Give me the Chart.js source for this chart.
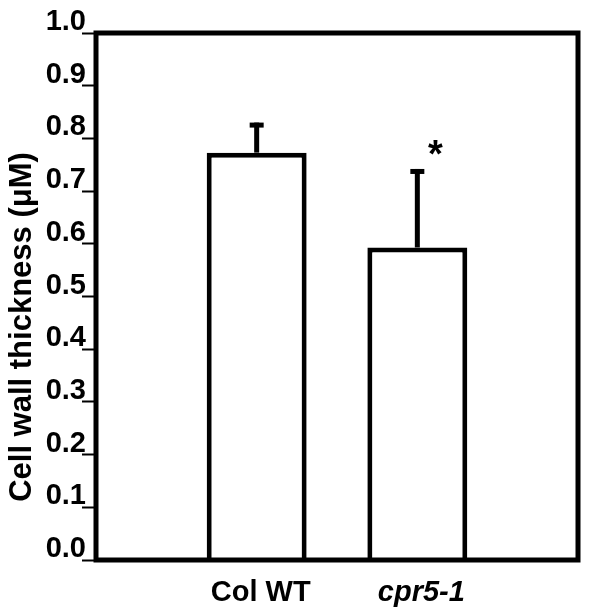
<!DOCTYPE html>
<html>
<head>
<meta charset="utf-8">
<script src="https://cdn.jsdelivr.net/npm/chart.js@4"></script>
<style>
  html, body { margin: 0; padding: 0; background: #fff; }
  #wrap { width: 600px; height: 614px; }
</style>
</head>
<body>
<div id="wrap"><canvas id="wallChart"></canvas></div>
<script>
// categories (blank slots at both ends keep the bars at 1/3 and 2/3 of the axis)
const categories = ['', 'Col WT', 'cpr5-1', ''];
const means = [null, 0.773, 0.593, null];
const errors = [null, 0.057, 0.149, null];
const marks = ['', '', '*', ''];
const yTicks = [0, 0.1, 0.2, 0.3, 0.4, 0.5, 0.6, 0.7, 0.8, 0.9, 1.0];
const yTitle = 'Cell wall thickness (\u03bcM)';

const FONT = "'Liberation Sans', Arial, Helvetica, sans-serif";

// frame, error bars, asterisk and the axis title
const extras = {
    id: 'extras',
    afterDatasetsDraw(chart) {
        const ctx = chart.ctx;
        const area = chart.chartArea;
        const x = chart.scales.x;
        const y = chart.scales.y;

        ctx.save();
        ctx.fillStyle = '#000';
        ctx.strokeStyle = '#000';

        means.forEach((m, i) => {
            if (m == null) return;
            const cx = x.getPixelForValue(i);
            const top = y.getPixelForValue(m + errors[i]);
            const base = y.getPixelForValue(m);
            ctx.fillRect(cx - 2.5, top, 5, base - top);   // stem
            ctx.fillRect(cx - 7, top, 14, 5);              // cap
            if (marks[i]) {
                ctx.font = 'bold 38px ' + FONT;
                ctx.textAlign = 'center';
                ctx.textBaseline = 'middle';
                ctx.fillText(marks[i], cx + 18, top - 12);
            }
        });

        // box round the plot
        ctx.lineWidth = 5;
        ctx.strokeRect(area.left, area.top, area.right - area.left, area.bottom - area.top);

        // y title
        ctx.font = 'bold 31px ' + FONT;
        ctx.textAlign = 'center';
        ctx.textBaseline = 'middle';
        ctx.translate(22, 327);
        ctx.rotate(-Math.PI / 2);
        ctx.fillText(yTitle, 0, 0);
        ctx.restore();
    }
};

new Chart('wallChart', {
    type: 'bar',
    data: {
        labels: categories,
        datasets: [{
            data: means,
            backgroundColor: '#fff',
            borderColor: '#000',
            borderWidth: 5,
            borderSkipped: 'bottom',
            barPercentage: 0.622,
            categoryPercentage: 1
        }]
    },
    options: {
        responsive: true,
        maintainAspectRatio: false,
        animation: false,
        layout: { padding: { left: 0, top: 33, right: 22, bottom: 0 } },
        plugins: {
            legend: { display: false },
            tooltip: { enabled: false }
        },
        scales: {
            x: {
                type: 'category',
                offset: false,
                grid: { display: false },
                border: { display: false },
                ticks: {
                    color: '#000',
                    padding: 8,
                    autoSkip: false,
                    maxRotation: 0,
                    labelOffset: 4,
                    font: (c) => ({
                        family: FONT,
                        size: 29,
                        weight: 'bold',
                        style: c.index === 2 ? 'italic' : 'normal'
                    })
                },
                afterFit: (s) => { s.height = 54; }
            },
            y: {
                min: 0,
                max: 1,
                grid: {
                    drawOnChartArea: false,
                    drawTicks: true,
                    tickLength: 14,
                    tickWidth: 2,
                    tickColor: '#000'
                },
                border: { display: false },
                afterBuildTicks: (s) => { s.ticks = yTicks.map(v => ({ value: v })); },
                ticks: {
                    color: '#000',
                    padding: -4,
                    labelOffset: -11,
                    font: { family: FONT, size: 29, weight: 'bold' },
                    callback: (v) => v.toFixed(1)
                },
                afterFit: (s) => { s.width = 96; }
            }
        }
    },
    plugins: [extras]
});
</script>
</body>
</html>
